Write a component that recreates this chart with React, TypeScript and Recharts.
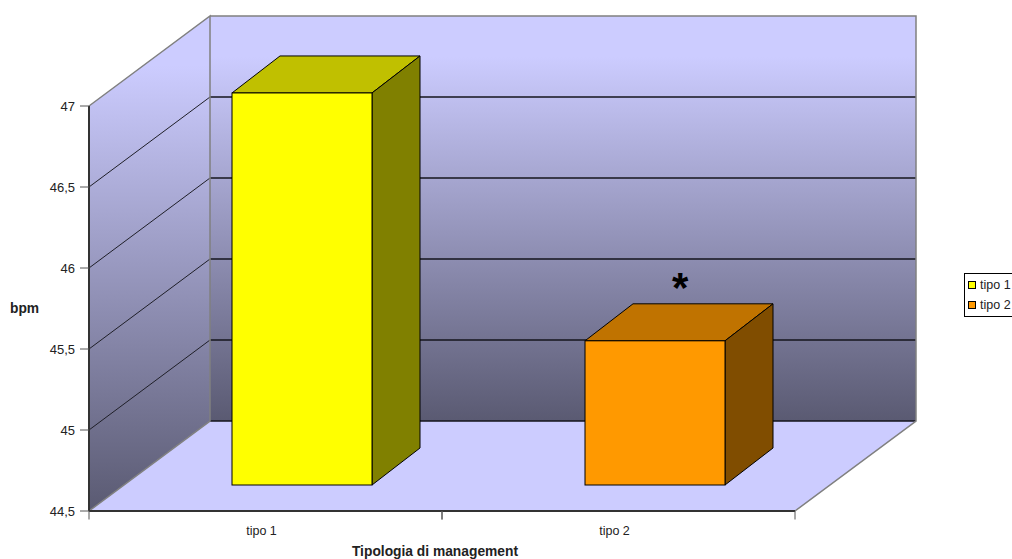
import React from 'react';
import {
  BarChart,
  Bar,
  XAxis,
  YAxis,
  Legend,
  ReferenceArea,
} from 'recharts';

const categories = ['tipo 1', 'tipo 2'];
const values = [46.92, 45.39];
const notes = ['', '*'];
const yTicks = [44.5, 45, 45.5, 46, 46.5, 47];

const fronts = ['#ffff00', '#ff9900'];
const tops = ['#c0c000', '#c07300'];
const sides = ['#808000', '#804d00'];

const data = categories.map((name, i) => ({name, value: values[i]}));

const FONT = 'Arial, "Liberation Sans", sans-serif';
const WALL_X = 121;
const WALL_Y = 90;
const BAR_SHIFT_X = 36;
const BAR_SHIFT_Y = 26;
const DEPTH_X = 48;
const DEPTH_Y = 37;
const BAND = 353;

// back wall, side wall and floor, all built from the rectangle the axes give us
function Walls({x, y, width, height}: any) {
  const bottom = y + height;
  const unit = height / (yTicks[yTicks.length - 1] - yTicks[0]);
  const points = (list: number[][]) => list.map(p => p.join(',')).join(' ');
  return (
    <g>
      <defs>
        <linearGradient id="wallFill" x1="0" y1="0" x2="0" y2="1">
          <stop offset="0" stopColor="#ccccff" />
          <stop offset="0.1" stopColor="#ccccff" />
          <stop offset="1" stopColor="#5a5a72" />
        </linearGradient>
      </defs>
      <rect
        x={x + WALL_X}
        y={y - WALL_Y}
        width={width}
        height={height}
        fill="url(#wallFill)"
      />
      <polygon
        points={points([
          [x, y],
          [x + WALL_X, y - WALL_Y],
          [x + WALL_X, bottom - WALL_Y],
          [x, bottom],
        ])}
        fill="url(#wallFill)"
      />
      <polygon
        points={points([
          [x, bottom],
          [x + width, bottom],
          [x + width + WALL_X, bottom - WALL_Y],
          [x + WALL_X, bottom - WALL_Y],
        ])}
        fill="#ccccff"
      />
      {yTicks.slice(1, -1).concat(yTicks[0]).map(t => {
        const ty = bottom - (t - yTicks[0]) * unit;
        return (
          <g key={t}>
            <line
              x1={x + WALL_X}
              y1={ty - WALL_Y}
              x2={x + width + WALL_X}
              y2={ty - WALL_Y}
              stroke="#14141c"
              strokeWidth={1.3}
            />
            {t !== yTicks[0] && (
              <line
                x1={x}
                y1={ty}
                x2={x + WALL_X}
                y2={ty - WALL_Y}
                stroke="#1f1f28"
              />
            )}
          </g>
        );
      })}
      <polyline
        points={points([
          [x, bottom],
          [x + WALL_X, bottom - WALL_Y],
          [x + WALL_X, y - WALL_Y],
          [x, y],
        ])}
        fill="none"
        stroke="#808080"
        strokeWidth={1.5}
      />
      <polyline
        points={points([
          [x + WALL_X, y - WALL_Y],
          [x + width + WALL_X, y - WALL_Y],
          [x + width + WALL_X, bottom - WALL_Y],
          [x + width, bottom],
        ])}
        fill="none"
        stroke="#808080"
        strokeWidth={1.5}
      />
    </g>
  );
}

function Box3D({x, y, width, height, index}: any) {
  const left = x + BAR_SHIFT_X;
  const right = left + width;
  const top = y - BAR_SHIFT_Y;
  const bottom = top + height;
  const poly = (list: number[][]) => list.map(p => p.join(',')).join(' ');
  return (
    <g stroke="#000" strokeWidth={1}>
      <polygon
        points={poly([
          [left, top],
          [left + DEPTH_X, top - DEPTH_Y],
          [right + DEPTH_X, top - DEPTH_Y],
          [right, top],
        ])}
        fill={tops[index]}
      />
      <polygon
        points={poly([
          [right, top],
          [right + DEPTH_X, top - DEPTH_Y],
          [right + DEPTH_X, bottom - DEPTH_Y],
          [right, bottom],
        ])}
        fill={sides[index]}
      />
      <rect x={left} y={top} width={width} height={height} fill={fronts[index]} />
      {notes[index] && (
        <text
          x={left + width * 0.68}
          y={top - 39}
          textAnchor="middle"
          fontFamily={FONT}
          fontWeight="bold"
          fontSize={42}
          stroke="none"
          fill="#000"
        >
          {notes[index]}
        </text>
      )}
    </g>
  );
}

function CategoryTick({x, y, payload}: any) {
  return (
    <g>
      <line x1={x - BAND / 2} y1={y - 8} x2={x - BAND / 2} y2={y + 0.5} stroke="#555" />
      <line x1={x + BAND / 2} y1={y - 8} x2={x + BAND / 2} y2={y + 0.5} stroke="#555" />
      <text
        x={x - 4}
        y={y + 16}
        textAnchor="middle"
        fontFamily={FONT}
        fontSize={12.5}
        fill="#222"
      >
        {payload.value}
      </text>
    </g>
  );
}

function KeyBox() {
  return (
    <div
      style={{
        border: '1px solid #000',
        background: '#fff',
        fontFamily: FONT,
        fontSize: 12.5,
        color: '#222',
        height: 41,
        boxSizing: 'content-box',
        paddingTop: 1,
      }}
    >
      {categories.map((name, i) => (
        <div key={name} style={{display: 'flex', alignItems: 'center', height: 20, paddingLeft: 3, whiteSpace: 'nowrap'}}>
          <span
            style={{
              display: 'inline-block',
              width: 6,
              height: 6,
              border: '1px solid #000',
              background: fronts[i],
              marginRight: 4,
            }}
          />
          {name}
        </div>
      ))}
    </div>
  );
}

export default function App() {
  return (
    <div style={{position: 'absolute', left: 0, top: 0, width: 1012, height: 559, overflow: 'hidden'}}>
      <BarChart
        width={1012}
        height={559}
        data={data}
        margin={{top: 106, right: 167, left: 0, bottom: 0}}
        barCategoryGap={0}
      >
        <XAxis
          dataKey="name"
          height={48}
          axisLine={{stroke: '#333', strokeWidth: 2}}
          tickLine={false}
          tick={<CategoryTick />}
          label={{
            value: 'Tipologia di management',
            position: 'insideBottom',
            offset: 3,
            dx: -7,
            fontFamily: FONT,
            fontWeight: 'bold',
            fontSize: 13.8,
            fill: '#222',
          }}
        />
        <YAxis
          width={89}
          domain={[44.5, 47]}
          ticks={yTicks}
          interval={0}
          axisLine={{stroke: '#333', strokeWidth: 2}}
          tickLine={{stroke: '#555'}}
          tickSize={9}
          tickMargin={5}
          tickFormatter={(t: number) => String(t).replace('.', ',')}
          tick={{fontFamily: FONT, fontSize: 13, fill: '#222'}}
          label={{
            value: 'bpm',
            position: 'insideLeft',
            offset: 10,
            fontFamily: FONT,
            fontWeight: 'bold',
            fontSize: 13.8,
            fill: '#222',
          }}
        />
        <ReferenceArea y1={44.5} y2={47} ifOverflow="visible" shape={<Walls />} />
        <Legend
          content={<KeyBox />}
          layout="vertical"
          align="right"
          verticalAlign="middle"
          wrapperStyle={{left: 964, top: 273, width: 50, height: 43, right: 'auto', bottom: 'auto'}}
        />
        <Bar dataKey="value" barSize={140} shape={<Box3D />} isAnimationActive={false} />
      </BarChart>
    </div>
  );
}
